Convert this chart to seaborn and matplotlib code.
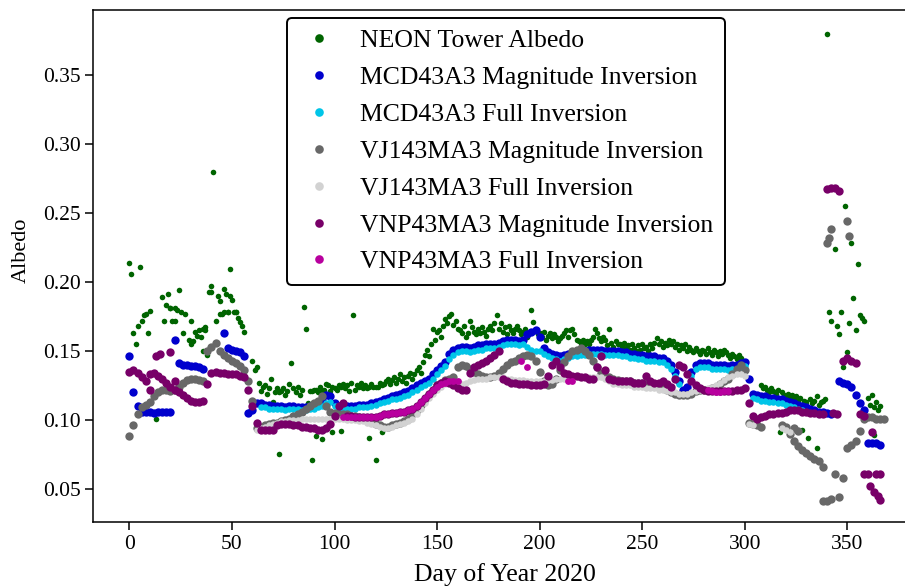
import numpy as np
import pandas as pd
import matplotlib
matplotlib.use('Agg')
import matplotlib.pyplot as plt
import seaborn as sns
from matplotlib.lines import Line2D
from matplotlib.ticker import FormatStrFormatter

# ---------------- data ----------------
# NEON tower: one value per day, day 0..367
neon_days = list(range(0, 368))
neon_albedo = [
    0.214, 0.206, 0.163, 0.155, 0.168, 0.211, 0.172, 0.176, 0.177, 0.163,
    0.179, None, None, 0.101, None, None, 0.189, 0.172, 0.183, 0.191,
    0.181, 0.172, 0.181, 0.180, 0.194, 0.178, 0.163, 0.177, None, 0.158,
    0.172, 0.157, 0.164, 0.161, 0.165, 0.160, 0.150, 0.167, 0.147, 0.193,
    0.197, 0.280, 0.172, 0.190, 0.186, 0.177, 0.195, 0.191, 0.178, 0.209,
    0.187, 0.178, 0.178, 0.174, 0.171, 0.168, 0.164, None, None, None,
    0.143, 0.136, 0.138, 0.127, 0.121, 0.124, 0.125, 0.119, 0.123, 0.130,
    0.113, 0.120, 0.123, 0.075, 0.121, 0.123, 0.118, 0.121, 0.126, 0.141,
    0.123, 0.120, 0.124, 0.118, 0.122, 0.182, 0.166, 0.112, 0.121, 0.071,
    0.122, 0.088, 0.120, 0.124, 0.086, 0.122, 0.126, 0.125, 0.121, 0.091,
    0.123, 0.122, 0.125, 0.092, 0.126, 0.123, 0.125, 0.121, 0.127, 0.176,
    0.122, 0.125, 0.124, 0.127, 0.123, 0.125, 0.123, 0.087, 0.126, 0.124,
    0.071, 0.124, 0.127, 0.091, 0.126, 0.128, 0.130, 0.126, 0.129, 0.131,
    0.127, 0.130, 0.133, 0.128, 0.131, 0.127, 0.132, 0.134, 0.130, 0.133,
    0.136, 0.138, 0.134, 0.142, 0.147, 0.151, 0.146, 0.155, 0.166, 0.158,
    0.164, 0.165, 0.160, 0.168, 0.173, 0.170, 0.175, 0.177, 0.169, 0.172,
    0.166, 0.165, 0.163, 0.168, 0.160, 0.163, 0.172, 0.167, 0.164, 0.162,
    0.166, 0.163, 0.167, 0.164, 0.161, 0.166, 0.168, 0.165, 0.170, 0.176,
    0.166, 0.170, 0.164, 0.167, 0.162, 0.168, 0.165, 0.163, 0.166, 0.168,
    0.165, 0.162, 0.164, 0.166, 0.160, 0.163, 0.180, 0.171, 0.165, 0.162,
    0.163, 0.160, 0.164, 0.158, 0.161, 0.163, 0.159, 0.162, 0.160, 0.157,
    0.159, 0.161, 0.163, 0.165, 0.160, 0.165, 0.166, 0.162, 0.158, 0.157,
    0.156, 0.158, 0.155, 0.157, 0.155, 0.158, 0.160, 0.166, 0.163, 0.159,
    0.157, 0.160, 0.158, 0.154, 0.166, 0.156, 0.153, 0.157, 0.155, 0.155,
    0.153, 0.156, 0.152, 0.154, 0.151, 0.155, 0.152, 0.150, 0.154, 0.151,
    0.155, 0.152, 0.153, 0.150, 0.155, 0.152, 0.156, 0.159, 0.155, 0.157,
    0.153, 0.156, 0.154, 0.158, 0.155, 0.157, 0.153, 0.155, 0.151, 0.154,
    0.152, 0.155, 0.150, 0.153, 0.151, 0.149, 0.152, 0.150, 0.148, 0.151,
    0.150, 0.148, 0.152, 0.149, 0.147, 0.151, 0.149, 0.146, 0.150, 0.148,
    0.151, 0.149, 0.147, 0.145, 0.148, 0.146, 0.144, 0.147, 0.145, 0.143,
    0.140, None, None, None, None, None, None, None, 0.125, 0.123,
    0.124, 0.122, 0.120, 0.123, 0.121, 0.119, 0.122, 0.091, 0.120, 0.118,
    0.117, 0.119, 0.116, 0.118, 0.115, 0.117, 0.114, 0.116, 0.093, 0.114,
    0.113, 0.087, 0.115, 0.112, 0.114, 0.080, 0.111, 0.113, None, None,
    0.380, 0.178, 0.172, None, 0.224, 0.168, 0.162, 0.178, 0.138, 0.255,
    0.149, 0.170, 0.228, 0.188, 0.165, 0.213, 0.176, 0.174, 0.172, None,
    0.116, 0.111, 0.118, 0.109, 0.113, 0.107, 0.110, None,
]
# second NEON readings on some days
neon_extra_days = [20, 22, 30, 36, 37, 40, 44, 46, 48, 49, 52, 73, 89, 91,
                   94, 99, 103, 117, 120, 123, 335, 338, 339, 363]
neon_extra_albedo = [0.181, 0.172, 0.155, 0.166, 0.165, 0.193, 0.177, 0.178,
                     0.178, 0.190, 0.178, 0.120, 0.121, 0.122, 0.121, 0.124,
                     0.124, 0.124, 0.124, 0.125, 0.117, 0.114, 0.115, 0.089]

# satellite products: every second day, day 0..368
sat_days = list(range(0, 369, 2))

mcd_mag = [
    0.146, 0.120, 0.110, 0.106, 0.106, 0.106, 0.105, 0.106, 0.106, 0.106,
    0.106, 0.158, 0.141, 0.140, 0.140, 0.139, 0.139, 0.138, 0.137, None,
    None, None, None, 0.163, 0.152, 0.151, 0.150, 0.149, 0.146, 0.105,
    0.107, 0.112, 0.112, 0.111, 0.111, 0.110, 0.110, 0.110, 0.109, 0.110,
    0.110, 0.109, 0.109, 0.109, 0.110, 0.110, 0.111, 0.114, 0.118, 0.117,
    0.112, 0.110, 0.110, 0.110, 0.110, 0.110, 0.111, 0.111, 0.111, 0.112,
    0.113, 0.114, 0.115, 0.116, 0.117, 0.118, 0.119, 0.120, 0.121, 0.123,
    0.125, 0.127, 0.128, 0.130, 0.133, 0.136, 0.139, 0.142, 0.148, 0.151,
    0.152, 0.153, 0.153, 0.152, 0.153, 0.154, 0.154, 0.155, 0.155, 0.155,
    0.156, 0.157, 0.158, 0.158, 0.158, 0.157, 0.158, 0.162, 0.164, 0.165,
    0.160, 0.152, 0.149, 0.148, 0.147, 0.146, 0.147, 0.148, 0.149, 0.149,
    0.150, 0.150, 0.151, 0.151, 0.151, 0.151, 0.150, 0.150, 0.150, 0.150,
    0.149, 0.149, 0.148, 0.148, 0.147, 0.147, 0.146, 0.146, 0.146, 0.145,
    0.145, 0.143, 0.140, 0.135, 0.128, 0.122, 0.124, 0.135, 0.140, 0.141,
    0.141, 0.141, 0.140, 0.140, 0.140, 0.140, 0.139, 0.140, 0.140, 0.141,
    0.142, 0.130, 0.119, 0.118, 0.117, 0.117, 0.116, 0.116, 0.115, 0.115,
    0.114, 0.113, 0.112, 0.111, 0.110, 0.109, 0.108, 0.107, 0.106, 0.106,
    0.105, 0.104, None, 0.128, 0.127, 0.126, 0.124, 0.118, 0.112, 0.107,
    0.083, 0.083, 0.083, 0.082, None,
]

mcd_full = [
    None, None, None, None, None, None, None, None, None, None,
    None, None, None, None, None, None, None, None, None, None,
    None, None, None, None, None, None, None, None, None, None,
    None, None, 0.109, 0.109, 0.108, 0.108, 0.108, 0.108, 0.107, 0.108,
    0.108, 0.108, 0.107, 0.107, 0.108, 0.108, 0.109, 0.110, 0.112, 0.113,
    0.110, 0.108, 0.108, 0.108, 0.108, 0.108, 0.109, 0.109, 0.109, 0.110,
    0.111, 0.112, 0.113, 0.114, 0.115, 0.115, 0.116, 0.117, 0.118, 0.120,
    0.122, 0.124, 0.125, 0.127, 0.130, 0.133, 0.136, 0.139, 0.144, 0.147,
    0.149, 0.150, 0.150, 0.149, 0.150, 0.151, 0.151, 0.152, 0.152, 0.152,
    0.153, 0.154, 0.155, 0.155, 0.155, 0.154, 0.155, 0.153, 0.151, 0.150,
    0.150, 0.148, 0.146, 0.145, 0.144, 0.143, 0.144, 0.145, 0.146, 0.146,
    0.147, 0.147, 0.148, 0.148, 0.148, 0.148, 0.147, 0.147, 0.147, 0.147,
    0.146, 0.146, 0.145, 0.145, 0.144, 0.144, 0.143, 0.143, 0.143, 0.142,
    0.142, 0.140, 0.137, 0.132, 0.126, None, None, 0.132, 0.137, 0.138,
    0.138, 0.138, 0.137, 0.137, 0.137, 0.137, 0.136, 0.137, 0.137, 0.138,
    0.139, None, 0.116, 0.115, 0.114, 0.114, 0.113, 0.113, 0.112, 0.112,
    0.111, 0.110, 0.109, 0.108, 0.107, 0.106, None, None, None, None,
    None, None, None, None, None, None, None, None, None, None,
    None, None, None, None, None,
]

vj_mag = [
    0.088, 0.096, 0.104, 0.109, 0.111, 0.113, 0.117, 0.120, 0.122, 0.122,
    0.121, 0.122, 0.124, 0.127, 0.129, 0.130, 0.130, 0.129, 0.128, 0.150,
    0.153, 0.156, 0.150, 0.147, 0.145, 0.143, 0.141, 0.139, 0.136, 0.128,
    0.114, 0.094, 0.095, 0.096, 0.097, 0.098, 0.098, 0.099, 0.100, 0.101,
    0.103, 0.104, 0.106, 0.108, 0.110, 0.112, 0.114, 0.117, 0.110, 0.106,
    0.105, 0.104, 0.104, 0.104, 0.103, 0.103, 0.102, 0.101, 0.100, 0.099,
    0.097, 0.096, 0.095, 0.095, 0.096, 0.097, 0.098, 0.099, 0.101, 0.104,
    0.107, 0.111, 0.115, 0.119, 0.122, 0.125, 0.127, 0.129, 0.130, 0.131,
    0.138, 0.140, 0.139, 0.137, 0.135, 0.133, 0.132, 0.131, 0.131, 0.132,
    0.134, 0.137, 0.140, 0.142, 0.143, 0.145, 0.146, 0.147, 0.146, 0.143,
    0.135, 0.128, 0.125, 0.126, 0.130, 0.136, 0.142, 0.146, 0.150, 0.151,
    0.152, 0.150, 0.147, 0.143, 0.138, 0.134, 0.132, 0.131, 0.130, 0.129,
    0.128, 0.128, 0.128, 0.127, 0.127, 0.127, 0.127, 0.126, 0.126, 0.125,
    0.124, 0.122, 0.120, 0.119, 0.118, 0.118, 0.118, 0.119, 0.121, 0.122,
    0.122, 0.122, 0.123, 0.124, 0.126, 0.128, 0.130, 0.133, 0.137, 0.140,
    0.136, 0.098, 0.097, 0.096, 0.095, None, None, None, None, 0.096,
    0.095, 0.090, 0.085, 0.081, 0.078, 0.076, 0.074, 0.072, 0.070, 0.066,
    0.041, 0.043, 0.061, 0.044, 0.058, 0.080, 0.082, 0.085, 0.092, 0.101,
    0.102, 0.102, 0.101, 0.101, 0.101,
]
vj_mag_extra_days = [324, 326, 338, 340, 341, 342, 350, 351]
vj_mag_extra_albedo = [0.094, 0.092, 0.041, 0.228, 0.232, 0.238, 0.244, 0.233]

vj_full = [
    None, None, None, None, None, None, None, None, None, None,
    None, None, None, None, None, None, None, None, None, None,
    None, None, None, None, None, None, None, None, None, None,
    None, 0.093, 0.094, 0.095, 0.096, 0.097, 0.098, 0.099, 0.099, 0.100,
    0.100, 0.100, 0.101, 0.101, 0.101, 0.101, 0.101, 0.101, 0.101, 0.101,
    0.101, 0.101, 0.101, 0.100, 0.100, 0.100, 0.099, 0.099, 0.098, 0.097,
    0.096, 0.095, 0.094, 0.094, 0.095, 0.096, 0.097, 0.098, 0.099, 0.101,
    0.104, 0.108, 0.112, 0.116, 0.119, 0.122, 0.124, 0.126, 0.127, 0.127,
    0.126, 0.126, 0.127, 0.128, 0.129, 0.130, 0.130, 0.130, 0.131, 0.131,
    0.131, 0.131, 0.130, 0.130, 0.129, 0.129, 0.129, 0.128, 0.128, 0.128,
    0.128, 0.128, 0.129, 0.129, 0.130, 0.130, 0.130, 0.131, 0.131, 0.131,
    0.131, 0.131, 0.131, 0.131, 0.131, 0.131, 0.130, 0.128, 0.126, 0.126,
    0.125, 0.125, 0.125, 0.124, 0.124, 0.124, 0.123, 0.123, 0.123, 0.122,
    0.122, 0.121, 0.120, 0.120, 0.119, 0.119, 0.119, 0.120, 0.121, 0.122,
    0.122, 0.123, 0.124, 0.125, 0.127, 0.129, 0.131, 0.132, 0.133, 0.133,
    0.132, 0.097, 0.096, None, None, None, None, None, None, 0.094,
    0.093, 0.091, None, None, None, None, None, None, None, None,
    None, None, None, None, None, None, None, None, None, None,
    None, None, None, None, None,
]

vnp_mag = [
    0.135, 0.136, 0.134, 0.131, 0.128, 0.133, 0.134, 0.132, 0.130, 0.127,
    0.124, 0.122, 0.120, 0.118, 0.116, 0.114, 0.113, 0.113, 0.114, 0.126,
    0.134, 0.135, 0.134, 0.134, 0.133, 0.133, 0.133, 0.132, 0.131, 0.122,
    0.110, 0.098, 0.093, 0.093, 0.093, 0.093, 0.096, 0.097, 0.097, 0.097,
    0.096, 0.096, 0.095, 0.095, 0.094, 0.094, 0.093, 0.093, 0.094, 0.097,
    0.103, 0.110, 0.112, 0.103, 0.103, 0.102, 0.102, 0.102, 0.102, 0.102,
    0.102, 0.103, 0.104, 0.104, 0.105, 0.105, 0.106, 0.106, 0.107, 0.108,
    0.110, 0.113, 0.116, 0.119, 0.122, 0.125, 0.127, 0.128, 0.127, 0.125,
    0.123, 0.122, 0.122, 0.134, 0.138, 0.140, 0.141, 0.143, 0.145, 0.147,
    0.150, 0.130, 0.128, 0.127, 0.127, 0.126, 0.126, 0.126, 0.125, 0.125,
    0.125, 0.126, 0.132, 0.140, 0.143, 0.138, 0.134, 0.133, 0.132, 0.132,
    0.131, 0.131, 0.130, 0.130, 0.138, 0.146, 0.136, 0.130, 0.129, 0.128,
    0.128, 0.128, 0.128, 0.127, 0.127, 0.127, 0.132, 0.128, 0.127, 0.127,
    0.128, 0.126, 0.124, 0.130, 0.140, 0.138, 0.133, 0.128, 0.125, 0.123,
    0.122, 0.121, 0.121, 0.121, 0.121, 0.121, 0.121, 0.121, 0.122, 0.122,
    0.123, 0.112, 0.103, 0.101, 0.102, 0.103, 0.104, 0.104, 0.105, 0.105,
    0.106, 0.107, 0.107, 0.107, 0.106, 0.106, 0.105, 0.105, 0.104, 0.104,
    0.267, 0.268, 0.268, 0.266, 0.143, 0.145, 0.143, 0.141, 0.104, 0.103,
    0.061, 0.091, 0.061, 0.061, None,
]
vnp_mag_extra_days = [10, 13, 15, 20, 22, 343, 345, 358, 361, 363, 365, 366]
vnp_mag_extra_albedo = [0.122, 0.146, 0.148, 0.149, 0.128, 0.105, 0.104,
                        0.061, 0.052, 0.048, 0.045, 0.042]

vnp_full = [
    None, None, None, None, None, None, None, None, None, None,
    None, None, None, None, None, None, None, None, None, None,
    None, None, None, None, None, None, None, None, None, None,
    None, None, None, None, None, None, None, None, None, None,
    None, None, None, None, None, None, None, None, None, None,
    None, None, 0.102, 0.102, 0.102, 0.102, 0.102, 0.102, 0.102, 0.102,
    0.102, 0.103, 0.104, 0.104, 0.105, 0.105, 0.106, 0.106, 0.107, 0.108,
    0.110, 0.113, 0.116, 0.119, 0.122, 0.124, 0.126, 0.127, 0.128, 0.128,
    0.128, None, None, None, None, None, None, None, None, None,
    None, None, None, None, None, None, None, None, None, None,
    None, None, None, None, None, None, None, None, None, None,
    None, None, None, None, None, None, None, None, None, None,
    None, None, None, None, None, None, None, None, None, None,
    None, None, None, None, None, None, None, None, None, None,
    None, None, None, None, None, None, None, None, None, None,
    None, None, None, None, None, None, None, None, None, None,
    None, None, None, None, None, None, None, None, None, None,
    None, None, None, None, None, None, None, None, None, None,
    None, None, None, None, None,
]
vnp_full_extra_days = [191, 194, 214, 216, 282, 284, 286, 288, 290, 292]
vnp_full_extra_albedo = [0.143, 0.138, 0.128, 0.128, 0.122, 0.121, 0.120,
                         0.120, 0.121, 0.121]

labels = ['NEON Tower Albedo', 'MCD43A3 Magnitude Inversion',
          'MCD43A3 Full Inversion', 'VJ143MA3 Magnitude Inversion',
          'VJ143MA3 Full Inversion', 'VNP43MA3 Magnitude Inversion',
          'VNP43MA3 Full Inversion']
colors = ['#006400', '#0000cd', '#00c5e8', '#686868', '#d2d2d2',
          '#780068', '#b8009e']


def series_frame(days, vals, extra_days=None, extra_vals=None):
    df = pd.DataFrame({'day': days, 'albedo': pd.array(vals, dtype='Float64')})
    if extra_days:
        df = pd.concat([df, pd.DataFrame({'day': extra_days,
                                          'albedo': extra_vals})])
    df['albedo'] = df['albedo'].astype(float)
    return df.dropna()


# (frame, marker size); full inversions a bit smaller so the
# magnitude series shows round them as in the original
series = [
    (series_frame(neon_days, neon_albedo, neon_extra_days, neon_extra_albedo), 16),
    (series_frame(sat_days, mcd_mag), 36),
    (series_frame(sat_days, mcd_full), 22),
    (series_frame(sat_days, vj_mag, vj_mag_extra_days, vj_mag_extra_albedo), 36),
    (series_frame(sat_days, vj_full), 22),
    (series_frame(sat_days, vnp_mag, vnp_mag_extra_days, vnp_mag_extra_albedo), 36),
    (series_frame(sat_days, vnp_full, vnp_full_extra_days, vnp_full_extra_albedo), 24),
]

# ---------------- plot ----------------
sns.set_style('ticks')
plt.rcParams['font.family'] = ['Liberation Serif', 'DejaVu Serif']
plt.rcParams['axes.edgecolor'] = 'black'
plt.rcParams['xtick.color'] = 'black'
plt.rcParams['ytick.color'] = 'black'
plt.rcParams['text.color'] = 'black'
plt.rcParams['axes.labelcolor'] = 'black'

fig = plt.figure(figsize=(9.05, 5.88), dpi=100)
ax = fig.add_axes([0.1033, 0.1122, 0.910, 0.8707])

for (df, size), color in zip(series, colors):
    sns.scatterplot(data=df, x='day', y='albedo', color=color, s=size,
                    linewidth=0, ax=ax, legend=False)

ax.set_xlim(-17.5, 384)
ax.set_ylim(0.026, 0.397)
ax.set_xticks(range(0, 351, 50))
ax.set_yticks([0.05, 0.10, 0.15, 0.20, 0.25, 0.30, 0.35])
ax.yaxis.set_major_formatter(FormatStrFormatter('%.2f'))
ax.tick_params(direction='out', length=5.5, width=1.1, labelsize=15.5)
for sp in ax.spines.values():
    sp.set_linewidth(1.1)
    sp.set_visible(True)

ax.set_xlabel('Day of Year 2020', fontsize=18.5, labelpad=7)
ax.set_ylabel('Albedo', fontsize=16)
ax.yaxis.set_label_coords(-0.076, 0.53)

handles = [Line2D([], [], ls='', marker='o', markersize=6.2,
                  markerfacecolor=c, markeredgewidth=0) for c in colors]
leg = ax.legend(handles, labels, loc='upper center',
                bbox_to_anchor=(0.501, 1.0), fontsize=18.5, frameon=True,
                fancybox=True, edgecolor='black', framealpha=1,
                borderpad=0.45, labelspacing=0.54, handlelength=1.6,
                handletextpad=0.8, borderaxespad=0.3)
leg.get_frame().set_linewidth(1.4)

fig.savefig('out.png', dpi=100)
